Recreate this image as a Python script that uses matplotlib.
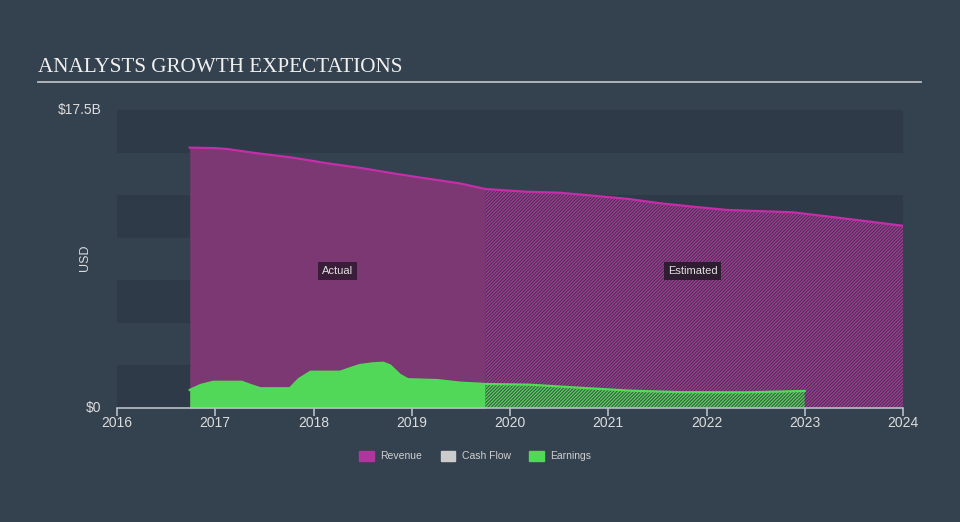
import numpy as np
import matplotlib
matplotlib.use("Agg")
import matplotlib.pyplot as plt
from matplotlib.patches import Patch

# values (billions USD)
rev_act_x = [2016.74, 2017.0, 2017.12, 2017.4, 2017.79, 2018.14, 2018.5, 2018.81, 2019.1, 2019.49, 2019.75]
rev_act_y = [15.29, 15.26, 15.21, 14.98, 14.70, 14.37, 14.08, 13.78, 13.52, 13.19, 12.86]
rev_est_x = [2019.75, 2020.17, 2020.51, 2020.84, 2021.2, 2021.53, 2021.9, 2022.21, 2022.55, 2022.88, 2023.39, 2024.0]
rev_est_y = [12.86, 12.70, 12.64, 12.47, 12.28, 12.02, 11.80, 11.63, 11.56, 11.49, 11.14, 10.70]

earn_act_x = [2016.74, 2016.85, 2016.98, 2017.27, 2017.36, 2017.46, 2017.76, 2017.85, 2017.97, 2018.27,
              2018.38, 2018.47, 2018.6, 2018.71, 2018.78, 2018.88, 2018.96, 2019.26, 2019.49, 2019.75]
earn_act_y = [1.06, 1.35, 1.54, 1.54, 1.35, 1.16, 1.16, 1.7, 2.13, 2.13,
              2.35, 2.52, 2.62, 2.66, 2.5, 1.95, 1.69, 1.64, 1.49, 1.41]
earn_est_x = [2019.75, 2020.2, 2020.71, 2021.22, 2021.73, 2022.41, 2023.0]
earn_est_y = [1.41, 1.37, 1.19, 1.02, 0.93, 0.92, 1.0]

years = [2016, 2017, 2018, 2019, 2020, 2021, 2022, 2023, 2024]

bg = "#34414f"
band = "#2e3a48"
rev_fill = "#7b3873"
rev_line = "#c42ea8"
earn_fill = "#52d858"
earn_line = "#4fdc56"

plt.rcParams["hatch.linewidth"] = 0.9

fig = plt.figure(figsize=(9.6, 5.22), dpi=100, facecolor=bg)
ax = fig.add_axes([117 / 960, 114 / 522, 786 / 960, 298 / 522])
ax.set_facecolor(bg)
ax.set_xlim(2016, 2024)
ax.set_ylim(0, 17.5)

for lo in [0, 5, 10, 15]:
    ax.axhspan(lo, lo + 2.5, color=band, lw=0, zorder=0)

# revenue
ax.fill_between(rev_act_x, 0, rev_act_y, color=rev_fill, lw=0, zorder=1)
ax.fill_between(rev_est_x, 0, rev_est_y, facecolor="#45334d", edgecolor="#a63b9a",
                hatch="//////////", lw=0, zorder=1)
ax.plot(rev_act_x + rev_est_x[1:], rev_act_y + rev_est_y[1:], color=rev_line, lw=1.6, zorder=3)

# earnings
ax.fill_between(earn_act_x, 0, earn_act_y, color=earn_fill, lw=0, zorder=2)
ax.fill_between(earn_est_x, 0, earn_est_y, facecolor="#3b5844", edgecolor="#58d25f",
                hatch="//////////", lw=0, zorder=2)
ax.plot(earn_act_x + earn_est_x[1:], earn_act_y + earn_est_y[1:], color=earn_line, lw=1.6, zorder=3)

ax.text(2018.24, 8.04, "Actual", color="#e0e0e0", fontsize=8, ha="center", va="center",
        family="Liberation Sans", zorder=5,
        bbox=dict(boxstyle="square,pad=0.35", fc="#3a1d38", ec="none"))
ax.text(2021.86, 8.04, "Estimated", color="#e0e0e0", fontsize=8, ha="center", va="center",
        family="Liberation Sans", zorder=5,
        bbox=dict(boxstyle="square,pad=0.35", fc="#2e1d30", ec="none"))

for s in ["top", "right", "left"]:
    ax.spines[s].set_visible(False)
ax.spines["bottom"].set_color("#b8bec6")
ax.spines["bottom"].set_linewidth(1.2)
ax.spines["bottom"].set_zorder(6)

ax.set_xticks(years)
ax.set_xticklabels([str(y) for y in years])
ax.tick_params(axis="x", colors="#b8bec6", labelcolor="#dcdcdc", length=6, width=1.2,
               direction="out", pad=0, labelsize=10)
ax.set_yticks([0, 17.5])
ax.set_yticklabels(["$0", "$17.5B"])
ax.tick_params(axis="y", length=0, pad=11, labelcolor="#dcdcdc", labelsize=10)
for lab in ax.get_xticklabels() + ax.get_yticklabels():
    lab.set_family("Liberation Sans")
ax.get_yticklabels()[1].set_va("center")
ax.get_yticklabels()[0].set_va("center")

fig.text(85 / 960, 1 - 258 / 522, "USD", color="#dcdcdc", fontsize=9, family="Liberation Sans",
         rotation=90, ha="center", va="center")

fig.text(38 / 960, 1 - 67 / 522, "ANALYSTS GROWTH EXPECTATIONS", color="#f0f0f0",
         fontsize=15.2, family="Liberation Serif", va="center", ha="left")
fig.add_artist(plt.Line2D([38 / 960, 921 / 960], [1 - 81.5 / 522] * 2, color="#b8bcc2", lw=1.3))

handles = [Patch(color="#b0359c", label="Revenue"),
           Patch(color="#cccccc", label="Cash Flow"),
           Patch(color="#52d858", label="Earnings")]
leg = fig.legend(handles=handles, loc="center", bbox_to_anchor=(0.495, 1 - 456 / 522), ncol=3,
                 frameon=False, handlelength=1.4, handleheight=1.1,
                 columnspacing=1.8, handletextpad=0.6, prop={"family": "Liberation Sans", "size": 7.5})
for t in leg.get_texts():
    t.set_color("#cfcfcf")

fig.savefig("out.png", dpi=100, facecolor=bg)
